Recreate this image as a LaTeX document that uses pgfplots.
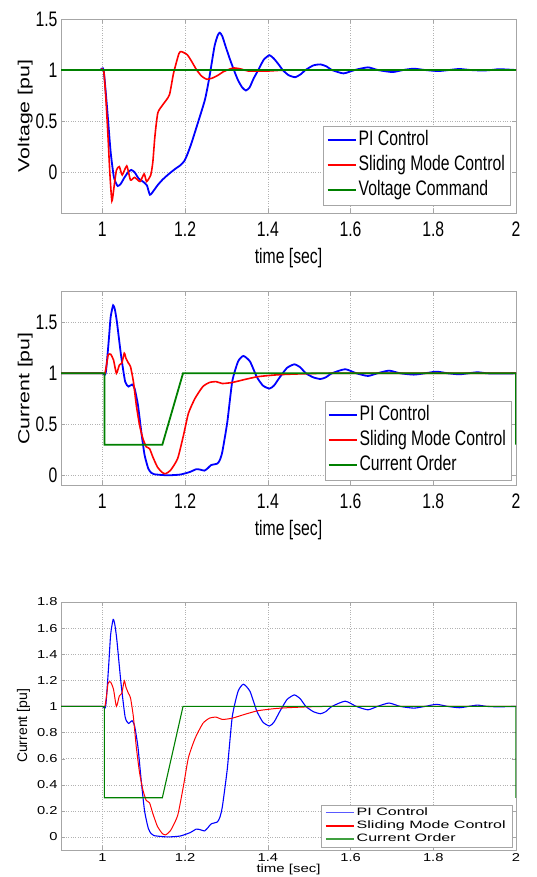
\documentclass[border=0pt]{standalone}
\usepackage{pgfplots}
\pgfplotsset{compat=1.18}
\usepackage{fontspec}
\setmainfont{Liberation Sans}
\newfontfamily\fnarrow[FakeStretch=0.75]{Liberation Sans}
\newfontfamily\fylab[FakeStretch=1.33]{Liberation Sans}
\newfontfamily\fwtick[FakeStretch=1.28]{Liberation Sans}
\newfontfamily\fwleg[FakeStretch=1.5]{Liberation Sans}
\newfontfamily\fwlab[FakeStretch=1.3]{Liberation Sans}

\definecolor{mblue}{RGB}{0,0,255}
\definecolor{mred}{RGB}{255,0,0}
\definecolor{mgreen}{RGB}{0,128,0}

\pgfplotstableread{
t v
0.9 1
0.95 1.0
0.98 1.0
0.995 1.0
1.003 1.0
1.012 0.6
1.020 0.2
1.028 -0.05
1.037 -0.134
1.045 -0.11
1.052 -0.06
1.062 0.0
1.070 0.023
1.078 0.0
1.0875 -0.06
1.096 -0.085
1.103 -0.107
1.108 -0.13
1.115 -0.22
1.124 -0.18
1.134 -0.124
1.146 -0.07
1.158 -0.026
1.175 0.03
1.189 0.07
1.198 0.11
1.205 0.17
1.215 0.28
1.228 0.446
1.248 0.71
1.259 0.935
1.271 1.23
1.279 1.34
1.284 1.365
1.290 1.33
1.298 1.23
1.308 1.11
1.318 1.0
1.328 0.9
1.338 0.83
1.347 0.80
1.356 0.83
1.366 0.92
1.377 1.0
1.390 1.1
1.404 1.145
1.415 1.11
1.427 1.05
1.436 1.0
1.45 0.95
1.466 0.93
1.48 0.96
1.491 1.0
1.51 1.045
1.527 1.055
1.542 1.035
1.555 1.0
1.583 0.967
1.61 1.0
1.642 1.026
1.666 1.0
1.701 0.98
1.727 1.0
1.753 1.013
1.78 1.0
1.812 0.99
1.838 1.0
1.863 1.01
1.89 1.0
1.919 0.995
1.94 1.0
1.96 1.008
2.0 1.0
}\vpi

\pgfplotstableread{
t v
0.9 1
0.95 1.0
0.98 1.0
0.995 1.0
1.003 1.0
1.008 0.75
1.013 0.4
1.018 0.0
1.023 -0.28
1.028 -0.15
1.034 0.02
1.041 0.055
1.048 -0.026
1.059 0.062
1.068 -0.075
1.078 -0.05
1.091 -0.09
1.101 -0.016
1.107 -0.09
1.117 -0.026
1.122 0.1
1.127 0.35
1.134 0.58
1.146 0.66
1.162 0.756
1.172 0.967
1.185 1.16
1.191 1.18
1.205 1.15
1.215 1.09
1.228 1.0
1.240 0.94
1.252 0.91
1.265 0.92
1.280 0.95
1.291 0.98
1.305 1.005
1.318 1.02
1.335 1.01
1.353 0.99
1.40 0.99
1.45 1.0
1.6 1.0
1.8 1.0
2.0 1.0
}\vsmc

\pgfplotstableread{
t v
0.9 1
0.95 1.0
0.98 1.0
1.0 1.0
1.008 1.0
1.015 1.3
1.020 1.55
1.026 1.666
1.030 1.63
1.035 1.51
1.045 1.18
1.055 0.92
1.063 0.87
1.072 0.89
1.078 0.85
1.086 0.69
1.094 0.43
1.102 0.20
1.111 0.066
1.118 0.025
1.125 0.01
1.157 0.0
1.188 0.007
1.212 0.033
1.227 0.06
1.237 0.055
1.247 0.046
1.255 0.07
1.263 0.1
1.278 0.115
1.284 0.15
1.290 0.23
1.302 0.52
1.314 0.92
1.328 1.115
1.341 1.17
1.357 1.115
1.373 0.967
1.388 0.88
1.404 0.85
1.415 0.88
1.427 0.95
1.436 1.0
1.447 1.055
1.464 1.088
1.478 1.06
1.492 1.0
1.51 0.96
1.527 0.944
1.54 0.96
1.555 1.0
1.587 1.04
1.614 1.0
1.642 0.974
1.665 1.0
1.693 1.026
1.72 1.0
1.753 0.987
1.78 1.0
1.808 1.016
1.835 1.0
1.863 0.99
1.885 1.0
1.907 1.01
1.93 1.0
1.958 0.997
2.0 1.0
}\ipi

\pgfplotstableread{
t v
0.9 1
0.95 1.0
0.98 1.0
1.0 1.0
1.006 1.0
1.010 1.08
1.014 1.18
1.020 1.187
1.027 1.13
1.034 1.0
1.041 1.08
1.047 1.10
1.053 1.197
1.057 1.148
1.063 1.10
1.068 1.066
1.075 0.92
1.082 0.69
1.090 0.49
1.098 0.36
1.106 0.28
1.114 0.262
1.122 0.18
1.133 0.082
1.145 0.026
1.153 0.016
1.165 0.05
1.182 0.164
1.196 0.39
1.208 0.607
1.224 0.754
1.243 0.87
1.259 0.91
1.275 0.918
1.290 0.90
1.314 0.91
1.345 0.94
1.376 0.967
1.416 0.983
1.447 0.99
1.5 0.997
1.55 1.0
1.7 1.0
1.85 1.0
2.0 1.0
}\ismc

\pgfplotstableread{
t v
0.9 1
1.005 1
1.005 0.3
1.145 0.3
1.195 1
2.0 1
2.0 0.3
}\iord

\pgfplotsset{
  legend image code/.code={\draw[#1] (0pt,0pt) -- (28pt,0pt);},
  mstyle/.style={
    scale only axis, width=455pt, xmin=0.9, xmax=2,
    xtick={1,1.2,1.4,1.6,1.8,2},
    grid=major, major grid style={dotted, gray!60},
    axis line style={gray!70}, tick style={gray!70},
    tick align=inside, major tick length=4pt,
    /pgf/number format/assume math mode=true,
    legend cell align=left,
  },
  bigtext/.style={
    ticklabel style={font=\fnarrow\fontsize{21}{21}\selectfont},
    xticklabel style={yshift=-5pt},
    xlabel style={font=\fnarrow\fontsize{21}{21}\selectfont, yshift=-5pt},
    ylabel style={font=\fylab\fontsize{16}{16}\selectfont},
    ylabel shift=-4pt,
    legend style={at={(0.987,0.042)}, anchor=south east, draw=gray!70,
      font=\fnarrow\fontsize{21}{21}\selectfont,
      row sep=0pt, inner xsep=3pt, inner ysep=2pt,
      nodes={inner ysep=2.5pt, text height=15pt, text depth=5pt}},
  },
  curve/.style={smooth, tension=0.35},
}

\begin{document}
\begin{tikzpicture}
\useasboundingbox (0,0) rectangle (536pt,877pt);

% voltage
\begin{axis}[mstyle, bigtext, at={(61pt,663.8pt)}, anchor=south west,
  height=194.3pt, ymin=-0.4, ymax=1.5, ytick={0,0.5,1,1.5},
  xlabel={time [sec]}, ylabel={Voltage [pu]}]
\addlegendimage{mblue, line width=1.8pt}
\addlegendentry{PI Control}
\addlegendimage{mred, line width=1.8pt}
\addlegendentry{Sliding Mode Control}
\addlegendimage{mgreen, line width=2.2pt}
\addlegendentry{Voltage Command}
\addplot[mblue, line width=1.8pt, curve, forget plot] table {\vpi};
\addplot[mred, line width=1.6pt, curve, forget plot] table {\vsmc};
\addplot[mgreen, line width=2.4pt, forget plot] coordinates {(0.9,1) (2,1)};
\end{axis}

% current
\begin{axis}[mstyle, bigtext, at={(61pt,391.5pt)}, anchor=south west,
  height=193.8pt, ymin=-0.1, ymax=1.8, ytick={0,0.5,1,1.5},
  xlabel={time [sec]}, ylabel={Current [pu]},
  legend style={at={(0.989,0.028)}}]
\addlegendimage{mblue, line width=1.8pt}
\addlegendentry{PI Control}
\addlegendimage{mred, line width=1.8pt}
\addlegendentry{Sliding Mode Control}
\addlegendimage{mgreen, line width=1.8pt}
\addlegendentry{Current Order}
\addplot[mblue, line width=1.8pt, curve, forget plot] table {\ipi};
\addplot[mred, line width=1.6pt, curve, forget plot] table {\ismc};
\addplot[mgreen, line width=1.8pt, forget plot] table {\iord};
\end{axis}

% current, small version
\begin{axis}[mstyle, at={(61pt,27pt)}, anchor=south west,
  height=248pt, ymin=-0.1, ymax=1.8,
  ytick={0,0.2,0.4,0.6,0.8,1,1.2,1.4,1.6,1.8},
  xlabel={time [sec]}, ylabel={Current [pu]},
  ticklabel style={font=\fwtick\fontsize{11.5}{11.5}\selectfont},
  xlabel style={font=\fwlab\fontsize{11.5}{11.5}\selectfont, yshift=4pt},
  ylabel style={font=\fontsize{14}{14}\selectfont},
  legend style={at={(0.991,0.012)}, anchor=south east, draw=gray!70,
    font=\fwleg\fontsize{10.7}{10.7}\selectfont,
    row sep=0pt, inner xsep=4pt, inner ysep=1pt,
    nodes={inner ysep=1.4pt, text height=8pt, text depth=2.5pt}}]
\addlegendimage{mblue!65, line width=1.6pt}
\addlegendentry{PI Control}
\addlegendimage{mred, line width=1.4pt}
\addlegendentry{Sliding Mode Control}
\addlegendimage{mgreen!75, line width=1.6pt}
\addlegendentry{Current Order}
\addplot[mblue, line width=1.1pt, curve, forget plot] table {\ipi};
\addplot[mred, line width=1pt, curve, forget plot] table {\ismc};
\addplot[mgreen, line width=1.1pt, forget plot] table {\iord};
\end{axis}
\end{tikzpicture}
\end{document}
